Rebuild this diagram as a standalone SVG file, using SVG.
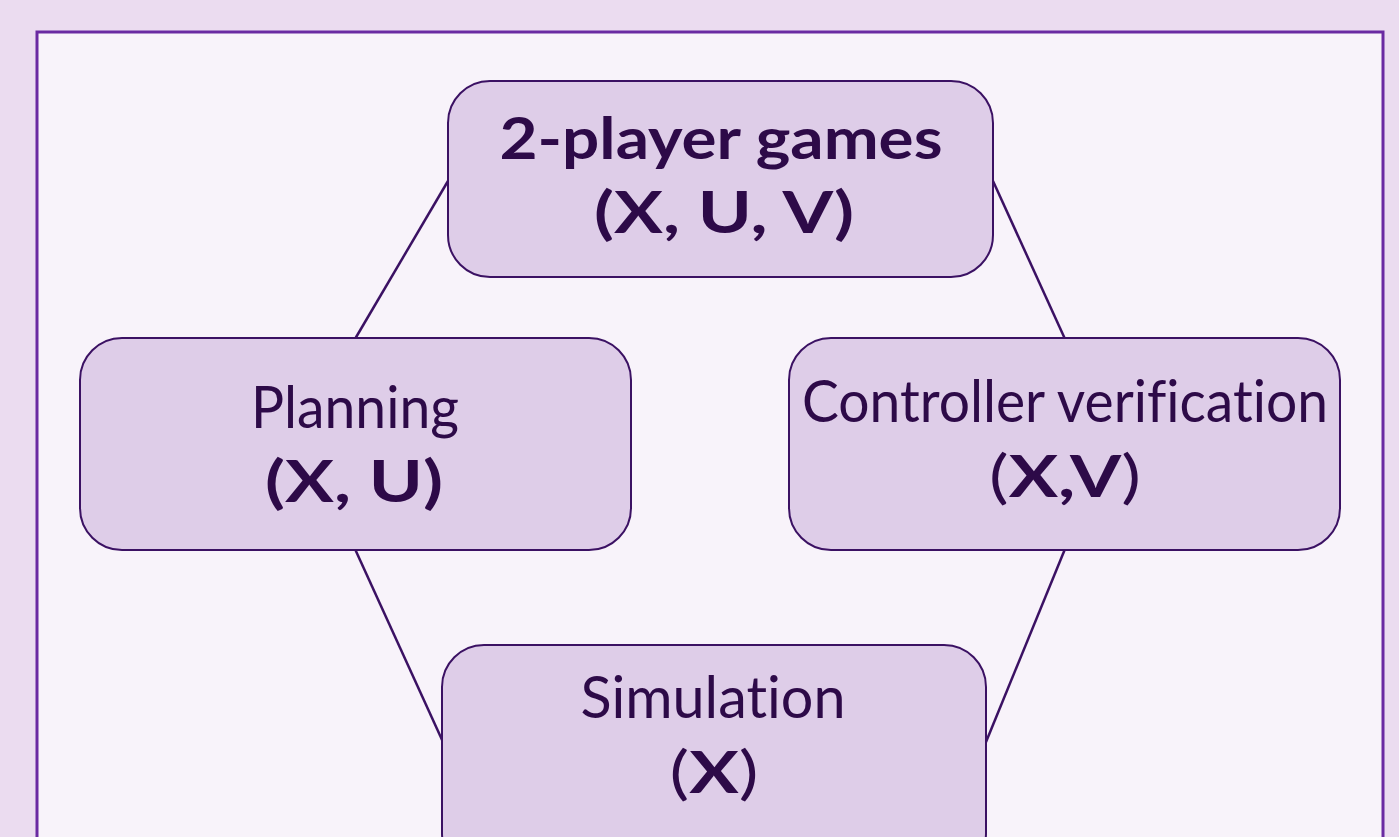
<svg xmlns="http://www.w3.org/2000/svg" width="1399" height="837" viewBox="0 0 1399 837">
<style>
.box{fill:#decde8;stroke:#3b1163;stroke-width:2}
.t{font-family:Lato,"Noto Sans",sans-serif;fill:#2d0a48;text-anchor:middle;font-size:58px;font-variant-ligatures:none}
.b{font-weight:bold}
.conn line{stroke:#3b1163;stroke-width:2.5}
</style>
<rect x="0" y="0" width="1399" height="837" fill="#ebdcf0"/>
<rect x="37" y="32" width="1346" height="830" fill="#f8f3fa" stroke="#6a2aa2" stroke-width="3"/>
<g id="connectors" class="conn">
<line x1="448" y1="181" x2="355" y2="339"/>
<line x1="993" y1="181" x2="1065" y2="339"/>
<line x1="355" y1="549" x2="443" y2="742"/>
<line x1="1065" y1="549" x2="986" y2="742"/>
</g>
<g id="games">
<rect class="box" x="448" y="81" width="545" height="196" rx="42"/>
<text class="t b" x="721" y="159" textLength="443" lengthAdjust="spacingAndGlyphs">2-player games</text>
<text class="t b" x="724" y="233" textLength="260" lengthAdjust="spacingAndGlyphs">(X, U, V)</text>
</g>
<g id="planning">
<rect class="box" x="80" y="338" width="551" height="212" rx="42"/>
<text class="t" x="355" y="428" textLength="208" lengthAdjust="spacingAndGlyphs">Planning</text>
<text class="t b" x="354" y="502" textLength="178" lengthAdjust="spacingAndGlyphs">(X, U)</text>
</g>
<g id="verification">
<rect class="box" x="789" y="338" width="551" height="212" rx="42"/>
<text class="t" x="1065" y="422" textLength="526" lengthAdjust="spacingAndGlyphs">Controller verification</text>
<text class="t" x="1065" y="497" textLength="152" lengthAdjust="spacingAndGlyphs">(<tspan class="b">X,V</tspan>)</text>
</g>
<g id="simulation">
<rect class="box" x="442" y="645" width="544" height="230" rx="42"/>
<text class="t" x="713" y="718" textLength="265" lengthAdjust="spacingAndGlyphs">Simulation</text>
<text class="t" x="714" y="793" textLength="89" lengthAdjust="spacingAndGlyphs">(<tspan class="b">X</tspan>)</text>
</g>
</svg>
